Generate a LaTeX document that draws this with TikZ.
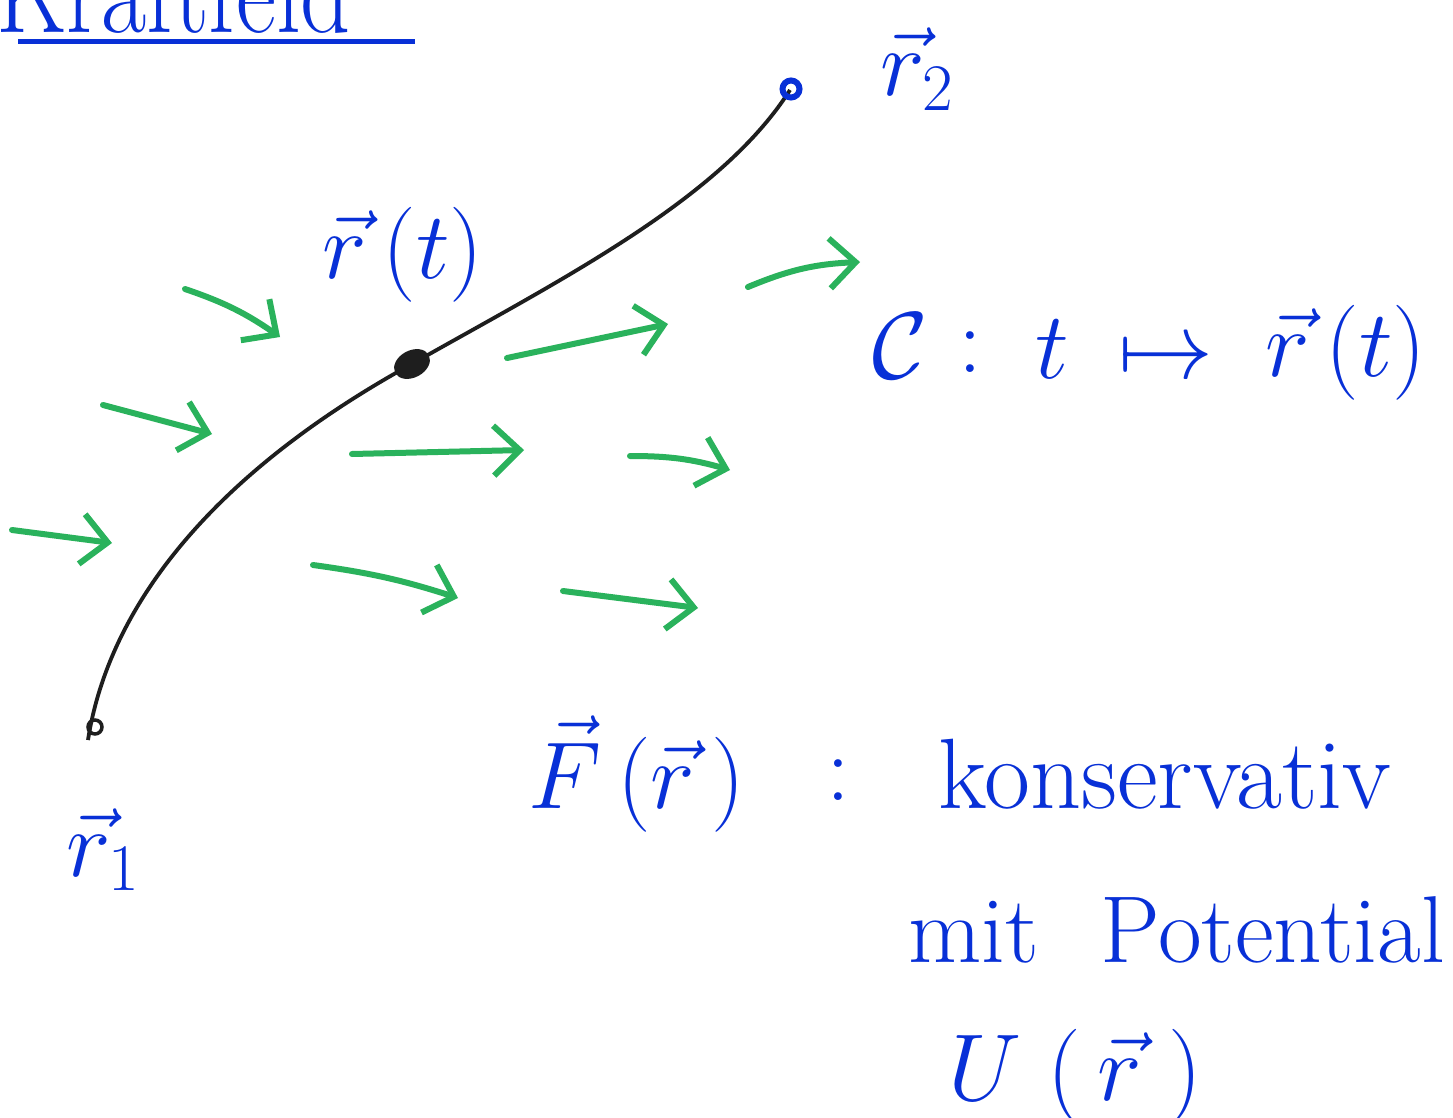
\RequirePackage{fix-cm}
\documentclass[tikz,border=0pt]{standalone}
\usetikzlibrary{arrows.meta,shapes.geometric}
\definecolor{hblue}{RGB}{8,48,215}
\definecolor{hgreen}{RGB}{42,178,92}
\definecolor{hblack}{RGB}{30,30,30}
\begin{document}
\begin{tikzpicture}[x=1pt,y=-1pt,
  lbl/.style={text=hblue,anchor=base west,inner sep=0pt,font=\fontsize{95}{110}\selectfont},
  fieldarrow/.style={draw=hgreen,line width=6pt,line cap=round,line join=round,
     -{Straight Barb[length=26pt,width=50pt,line width=6pt]}},
  curve/.style={draw=hblack,line width=3.8pt}]
\useasboundingbox (0,0) rectangle (1453,1118);
\clip (0,0) rectangle (1453,1118);
\fill[white] (0,0) rectangle (1453,1118);
% title, cut off at top
\node[lbl,font=\fontsize{120}{130}\selectfont,xscale=0.82] (title) at (-4,33) {Kraftfeld};
\coordinate (ulA) at (18,42);
\coordinate (ulB) at (415,42);
\draw[hblue,line width=5pt] (ulA) -- (ulB);
% curve
\coordinate (r1) at (88,740);
\coordinate (rt) at (410,365);
\coordinate (r2) at (790,90);
\draw[curve] (r1) .. controls (110,600) and (220,470) .. (rt)
  .. controls (560,280) and (720,200) .. (r2);
\node[draw=hblack,circle,line width=3.5pt,minimum size=14pt,inner sep=0pt] (p1) at (95,727) {};
\node[draw=hblue,circle,line width=6pt,minimum size=17pt,inner sep=0pt] (p2) at (791,89) {};
\node[fill=hblack,ellipse,draw=hblack,line width=2pt,minimum width=36pt,minimum height=25pt,rotate=28,inner sep=0pt] (pt) at (412,364) {};
% labels
\node[lbl] (l2) at (880,96) {$\vec r_2$};
\node[lbl] (lt) at (322,278) {$\vec r\,(t)$};
\node[lbl] (l1) at (66,876) {$\vec r_1$};
\node[lbl] (lc) at (872,378) {$\mathcal{C}$};
\node[lbl] (lcolon1) at (958,372) {$:$};
\node[lbl] (ltt) at (1035,378) {$t$};
\node[lbl] (lmap) at (1118,378) {$\mapsto$};
\node[lbl] (lrt) at (1265,376) {$\vec r\,(t)$};
\node[lbl] (lF) at (528,808) {$\vec F\,(\vec r\,)$};
\node[lbl] (lcolon2) at (826,800) {$:$};
\node[lbl,font=\fontsize{100}{115}\selectfont] (lkons) at (938,808) {konservativ};
\node[lbl] (lmit) at (908,962) {mit\hspace{62pt}Potential};
\node[lbl] (lU) at (948,1100) {$U\;(\,\vec r\;)$};
% green field arrows
\coordinate (a1s) at (185,289); \coordinate (a1e) at (280,337);
\coordinate (a2s) at (103,405); \coordinate (a2e) at (212,434);
\coordinate (a3s) at (12,530);  \coordinate (a3e) at (112,543);
\coordinate (a4s) at (507,358); \coordinate (a4e) at (668,324);
\coordinate (a5s) at (352,454); \coordinate (a5e) at (524,450);
\coordinate (a6s) at (748,287); \coordinate (a6e) at (860,262);
\coordinate (a7s) at (630,456); \coordinate (a7e) at (730,470);
\coordinate (a8s) at (313,565); \coordinate (a8e) at (458,598);
\coordinate (a9s) at (563,591); \coordinate (a9e) at (698,608);
\draw[fieldarrow] (a1s) to[bend left=8] (a1e);
\draw[fieldarrow] (a2s) -- (a2e);
\draw[fieldarrow] (a3s) -- (a3e);
\draw[fieldarrow] (a4s) -- (a4e);
\draw[fieldarrow] (a5s) -- (a5e);
\draw[fieldarrow] (a6s) to[bend left=10] (a6e);
\draw[fieldarrow] (a7s) to[bend left=8] (a7e);
\draw[fieldarrow] (a8s) to[bend left=5] (a8e);
\draw[fieldarrow] (a9s) -- (a9e);
\end{tikzpicture}
\end{document}
